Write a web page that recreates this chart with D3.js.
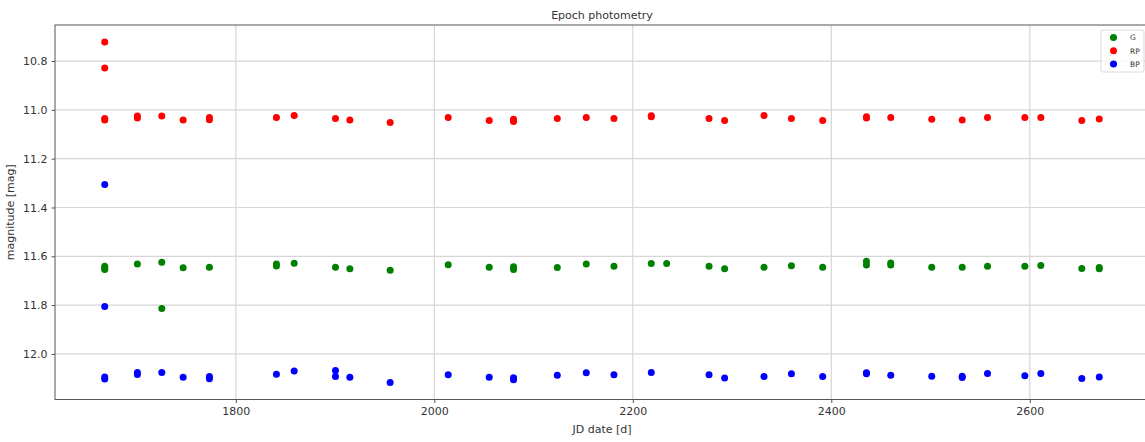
<!DOCTYPE html>
<html>
<head>
<meta charset="utf-8">
<script src="https://cdnjs.cloudflare.com/ajax/libs/d3/7.8.5/d3.min.js"></script>
<style>
  body { margin: 0; background: #fff; }
  svg { display: block; font-family: "DejaVu Sans", sans-serif; }
</style>
</head>
<body>
<script>
// epoch photometry
var gDate = [1667.9, 1667.9, 1667.9, 1700.8, 1725.4, 1725.4, 1746.9, 1773.4, 1840.9, 1840.9, 1858.8, 1900.4, 1914.9, 1955.5,
  2014.0, 2055.3, 2079.8, 2079.8, 2123.9, 2153.1, 2181.0, 2218.6, 2234.1, 2276.8, 2292.5, 2332.2,
  2359.8, 2391.3, 2435.4, 2435.4, 2459.9, 2459.9, 2501.2, 2531.9, 2557.4, 2595.0, 2611.1, 2652.4, 2670.0, 2670.0];
var gMag = [11.641, 11.648, 11.654, 11.632, 11.624, 11.814, 11.647, 11.645, 11.632, 11.640, 11.628, 11.645, 11.651, 11.657,
  11.635, 11.645, 11.643, 11.654, 11.646, 11.632, 11.641, 11.630, 11.630, 11.641, 11.651, 11.645,
  11.639, 11.645, 11.620, 11.636, 11.627, 11.636, 11.645, 11.645, 11.641, 11.641, 11.638, 11.650, 11.646, 11.651];

var rpDate = [1667.9, 1667.9, 1667.9, 1667.9, 1700.8, 1700.8, 1725.4, 1746.9, 1773.4, 1773.4, 1840.9, 1858.8, 1900.4, 1914.9, 1955.5,
  2014.0, 2055.3, 2079.8, 2079.8, 2123.9, 2153.1, 2181.0, 2218.6, 2218.6, 2276.8, 2292.5, 2332.2,
  2359.8, 2391.3, 2435.4, 2435.4, 2459.9, 2501.2, 2531.9, 2557.4, 2595.0, 2611.1, 2652.4, 2670.0];
var rpMag = [10.722, 10.828, 11.035, 11.042, 11.025, 11.033, 11.025, 11.041, 11.031, 11.040, 11.031, 11.023, 11.035, 11.042, 11.052,
  11.031, 11.044, 11.038, 11.048, 11.035, 11.031, 11.035, 11.024, 11.028, 11.035, 11.044, 11.023,
  11.035, 11.044, 11.028, 11.033, 11.031, 11.038, 11.041, 11.031, 11.031, 11.031, 11.044, 11.037];

var bpDate = [1667.9, 1667.9, 1667.9, 1667.9, 1700.8, 1700.8, 1725.4, 1746.9, 1773.4, 1773.4, 1840.9, 1858.8, 1900.4, 1900.4, 1914.9, 1955.5,
  2014.0, 2055.3, 2079.8, 2079.8, 2123.9, 2153.1, 2181.0, 2218.6, 2276.8, 2292.5, 2332.2,
  2359.8, 2391.3, 2435.4, 2435.4, 2459.9, 2501.2, 2531.9, 2531.9, 2557.4, 2595.0, 2611.1, 2652.4, 2670.0];
var bpMag = [11.306, 11.806, 12.095, 12.103, 12.076, 12.084, 12.076, 12.096, 12.092, 12.102, 12.083, 12.070, 12.068, 12.092, 12.096, 12.117,
  12.085, 12.096, 12.098, 12.106, 12.087, 12.077, 12.085, 12.076, 12.085, 12.099, 12.092,
  12.081, 12.092, 12.077, 12.081, 12.087, 12.091, 12.091, 12.097, 12.080, 12.089, 12.080, 12.101, 12.095];

var xTicks = [1800, 2000, 2200, 2400, 2600];
var yTicks = [10.8, 11.0, 11.2, 11.4, 11.6, 11.8, 12.0];

var series = [
  {name: "G", color: "green", date: gDate, mag: gMag},
  {name: "RP", color: "red", date: rpDate, mag: rpMag},
  {name: "BP", color: "blue", date: bpDate, mag: bpMag}
];

var width = 1145, height = 442;
var margin = {top: 25, right: -4, bottom: 42.5, left: 55};
var w = width - margin.left - margin.right,
    h = height - margin.top - margin.bottom;

// matplotlib style 5% padding around the data
function padded(arr){
  var ext = d3.extent(arr), pad = (ext[1] - ext[0]) * 0.05;
  return [ext[0] - pad, ext[1] + pad];
}
var allDates = gDate.concat(rpDate, bpDate);
var allMags = gMag.concat(rpMag, bpMag);

var x = d3.scaleLinear().domain(padded(allDates)).range([0, w]);
var y = d3.scaleLinear().domain(padded(allMags)).range([0, h]); // inverted: bright on top

var svg = d3.select("body").append("svg")
  .attr("width", width)
  .attr("height", height);

var g = svg.append("g")
  .attr("transform", "translate(" + margin.left + "," + margin.top + ")");

// grid
g.append("g").selectAll("line").data(xTicks).enter().append("line")
  .attr("x1", function(d){ return x(d); }).attr("x2", function(d){ return x(d); })
  .attr("y1", 0).attr("y2", h)
  .attr("stroke", "#d6d6d6").attr("stroke-width", 1.2);
g.append("g").selectAll("line").data(yTicks).enter().append("line")
  .attr("y1", function(d){ return y(d); }).attr("y2", function(d){ return y(d); })
  .attr("x1", 0).attr("x2", w)
  .attr("stroke", "#d6d6d6").attr("stroke-width", 1.2);

// axes
var xAxis = g.append("g")
  .attr("transform", "translate(0," + h + ")")
  .call(d3.axisBottom(x).tickValues(xTicks).tickSize(3.5).tickPadding(4).tickFormat(d3.format("d")));
var yAxis = g.append("g")
  .call(d3.axisLeft(y).tickValues(yTicks).tickSize(3.5).tickPadding(4).tickFormat(d3.format(".1f")));

[xAxis, yAxis].forEach(function(a){
  a.select(".domain").remove();
  a.selectAll(".tick line").attr("stroke", "#555");
  a.selectAll(".tick text").attr("fill", "#333").style("font-size", "11px").style("font-family", "DejaVu Sans");
});

// spines
g.append("rect")
  .attr("x", 0).attr("y", 0).attr("width", w).attr("height", h)
  .attr("fill", "none").attr("stroke", "#555").attr("stroke-width", 1);

// points
series.forEach(function(s){
  g.append("g").selectAll("circle")
    .data(s.date.map(function(d, i){ return [d, s.mag[i]]; }))
    .enter().append("circle")
    .attr("cx", function(d){ return x(d[0]); })
    .attr("cy", function(d){ return y(d[1]); })
    .attr("r", 3.5)
    .attr("fill", s.color);
});

// labels
svg.append("text")
  .attr("x", margin.left + w / 2).attr("y", 19)
  .attr("text-anchor", "middle").attr("fill", "#333")
  .style("font-size", "11px")
  .text("Epoch photometry");

svg.append("text")
  .attr("x", margin.left + w / 2).attr("y", 433)
  .attr("text-anchor", "middle").attr("fill", "#333")
  .style("font-size", "11px")
  .text("JD date [d]");

svg.append("text")
  .attr("transform", "translate(14," + (margin.top + h / 2) + ") rotate(-90)")
  .attr("text-anchor", "middle").attr("fill", "#333")
  .style("font-size", "11px")
  .text("magnitude [mag]");

// legend
var leg = svg.append("g").attr("transform", "translate(1101,30)");
leg.append("rect")
  .attr("width", 43).attr("height", 42).attr("rx", 2)
  .attr("fill", "#fff").attr("fill-opacity", 0.8)
  .attr("stroke", "#d0d0d0").attr("stroke-width", 0.8);
series.forEach(function(s, i){
  leg.append("circle")
    .attr("cx", 12.5).attr("cy", 7.5 + i * 13.2).attr("r", 3.5)
    .attr("fill", s.color);
  leg.append("text")
    .attr("x", 29).attr("y", 10.3 + i * 13.2)
    .attr("fill", "#333")
    .style("font-size", "7.5px")
    .text(s.name);
});
</script>
</body>
</html>
